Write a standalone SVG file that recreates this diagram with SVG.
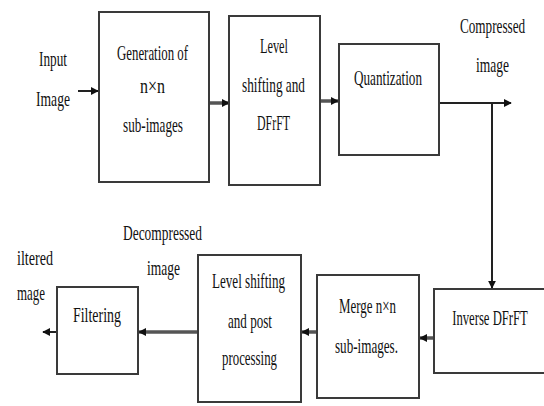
<svg xmlns="http://www.w3.org/2000/svg" width="544" height="406" viewBox="0 0 544 406">
<defs>
<style>
.box{fill:#fff;stroke:#3a3a3a;stroke-width:2}
.t{font-family:"Liberation Serif","DejaVu Serif",serif;font-size:22px;fill:#111;text-anchor:middle}
.s{text-anchor:start}
.c{stroke:#222;stroke-width:2;fill:none}
.g{stroke:#555;stroke-width:3.5;fill:none}
</style>
<marker id="ah" viewBox="0 0 10 10" refX="9" refY="5" markerWidth="8" markerHeight="10" markerUnits="userSpaceOnUse" orient="auto"><path d="M0,0 L10,5 L0,10 z" fill="#111"/></marker>
</defs>
<rect width="544" height="406" fill="#fff"/>
<g id="connectors">
<line class="c" x1="78" y1="91" x2="98" y2="91" marker-end="url(#ah)"/>
<line class="g" x1="209" y1="103" x2="229" y2="103" marker-end="url(#ah)"/>
<line class="g" x1="320" y1="101" x2="338" y2="101" marker-end="url(#ah)"/>
<line class="c" x1="440" y1="103" x2="511" y2="103" marker-end="url(#ah)"/>
<line class="c" x1="492" y1="103" x2="492" y2="288" marker-end="url(#ah)"/>
<line class="g" x1="434" y1="338" x2="420" y2="338" marker-end="url(#ah)"/>
<line class="g" x1="317" y1="332" x2="302" y2="332" marker-end="url(#ah)"/>
<line class="g" x1="198" y1="332" x2="139" y2="332" marker-end="url(#ah)"/>
<line class="c" x1="57" y1="332" x2="43" y2="332" marker-end="url(#ah)"/>
</g>
<g id="input-label">
<text class="t" x="53" y="66" textLength="28" lengthAdjust="spacingAndGlyphs">Input</text>
<text class="t" x="53" y="106" textLength="34" lengthAdjust="spacingAndGlyphs">Image</text>
</g>
<g id="gen">
<rect class="box" x="99" y="12" width="110" height="170"/>
<text class="t" x="152.5" y="60" textLength="71" lengthAdjust="spacingAndGlyphs">Generation of</text>
<text class="t" x="152.5" y="93" textLength="25" lengthAdjust="spacingAndGlyphs">n×n</text>
<text class="t" x="153" y="132" textLength="60" lengthAdjust="spacingAndGlyphs">sub-images</text>
</g>
<g id="level">
<rect class="box" x="229" y="16" width="91" height="169"/>
<text class="t" x="274" y="53" textLength="28" lengthAdjust="spacingAndGlyphs">Level</text>
<text class="t" x="273.5" y="92" textLength="63" lengthAdjust="spacingAndGlyphs">shifting and</text>
<text class="t" x="273.5" y="130" textLength="33" lengthAdjust="spacingAndGlyphs">DFrFT</text>
</g>
<g id="quant">
<rect class="box" x="339" y="44" width="100" height="111"/>
<text class="t" x="388" y="85" textLength="68" lengthAdjust="spacingAndGlyphs">Quantization</text>
</g>
<g id="compressed-label">
<text class="t" transform="translate(492.5,33) scale(0.6,1)" x="0" y="0">Compressed</text>
<text class="t" x="492.5" y="72" textLength="33" lengthAdjust="spacingAndGlyphs">image</text>
</g>
<g id="inverse">
<rect class="box" x="434" y="289" width="120" height="84"/>
<text class="t" transform="translate(490,325) scale(0.576,1)" x="0" y="0">Inverse DFrFT</text>
</g>
<g id="merge">
<rect class="box" x="317" y="275" width="102" height="123"/>
<text class="t" x="367.5" y="313" textLength="57" lengthAdjust="spacingAndGlyphs">Merge n×n</text>
<text class="t" x="366.5" y="353" textLength="63" lengthAdjust="spacingAndGlyphs">sub-images.</text>
</g>
<g id="post">
<rect class="box" x="198" y="255" width="103" height="147"/>
<text class="t" x="248.5" y="288" textLength="73" lengthAdjust="spacingAndGlyphs">Level shifting</text>
<text class="t" x="250" y="328" textLength="44" lengthAdjust="spacingAndGlyphs">and post</text>
<text class="t" x="249.5" y="365" textLength="55" lengthAdjust="spacingAndGlyphs">processing</text>
</g>
<g id="decompressed-label">
<text class="t" x="162.5" y="240" textLength="79" lengthAdjust="spacingAndGlyphs">Decompressed</text>
<text class="t" x="163.5" y="275" textLength="33" lengthAdjust="spacingAndGlyphs">image</text>
</g>
<g id="filtering">
<rect class="box" x="57" y="287" width="81" height="87"/>
<text class="t" x="97" y="322" textLength="48" lengthAdjust="spacingAndGlyphs">Filtering</text>
</g>
<g id="filtered-label">
<text class="t s" x="17" y="265" textLength="36" lengthAdjust="spacingAndGlyphs">iltered</text>
<text class="t s" x="17" y="300" textLength="28" lengthAdjust="spacingAndGlyphs">mage</text>
</g>
</svg>
